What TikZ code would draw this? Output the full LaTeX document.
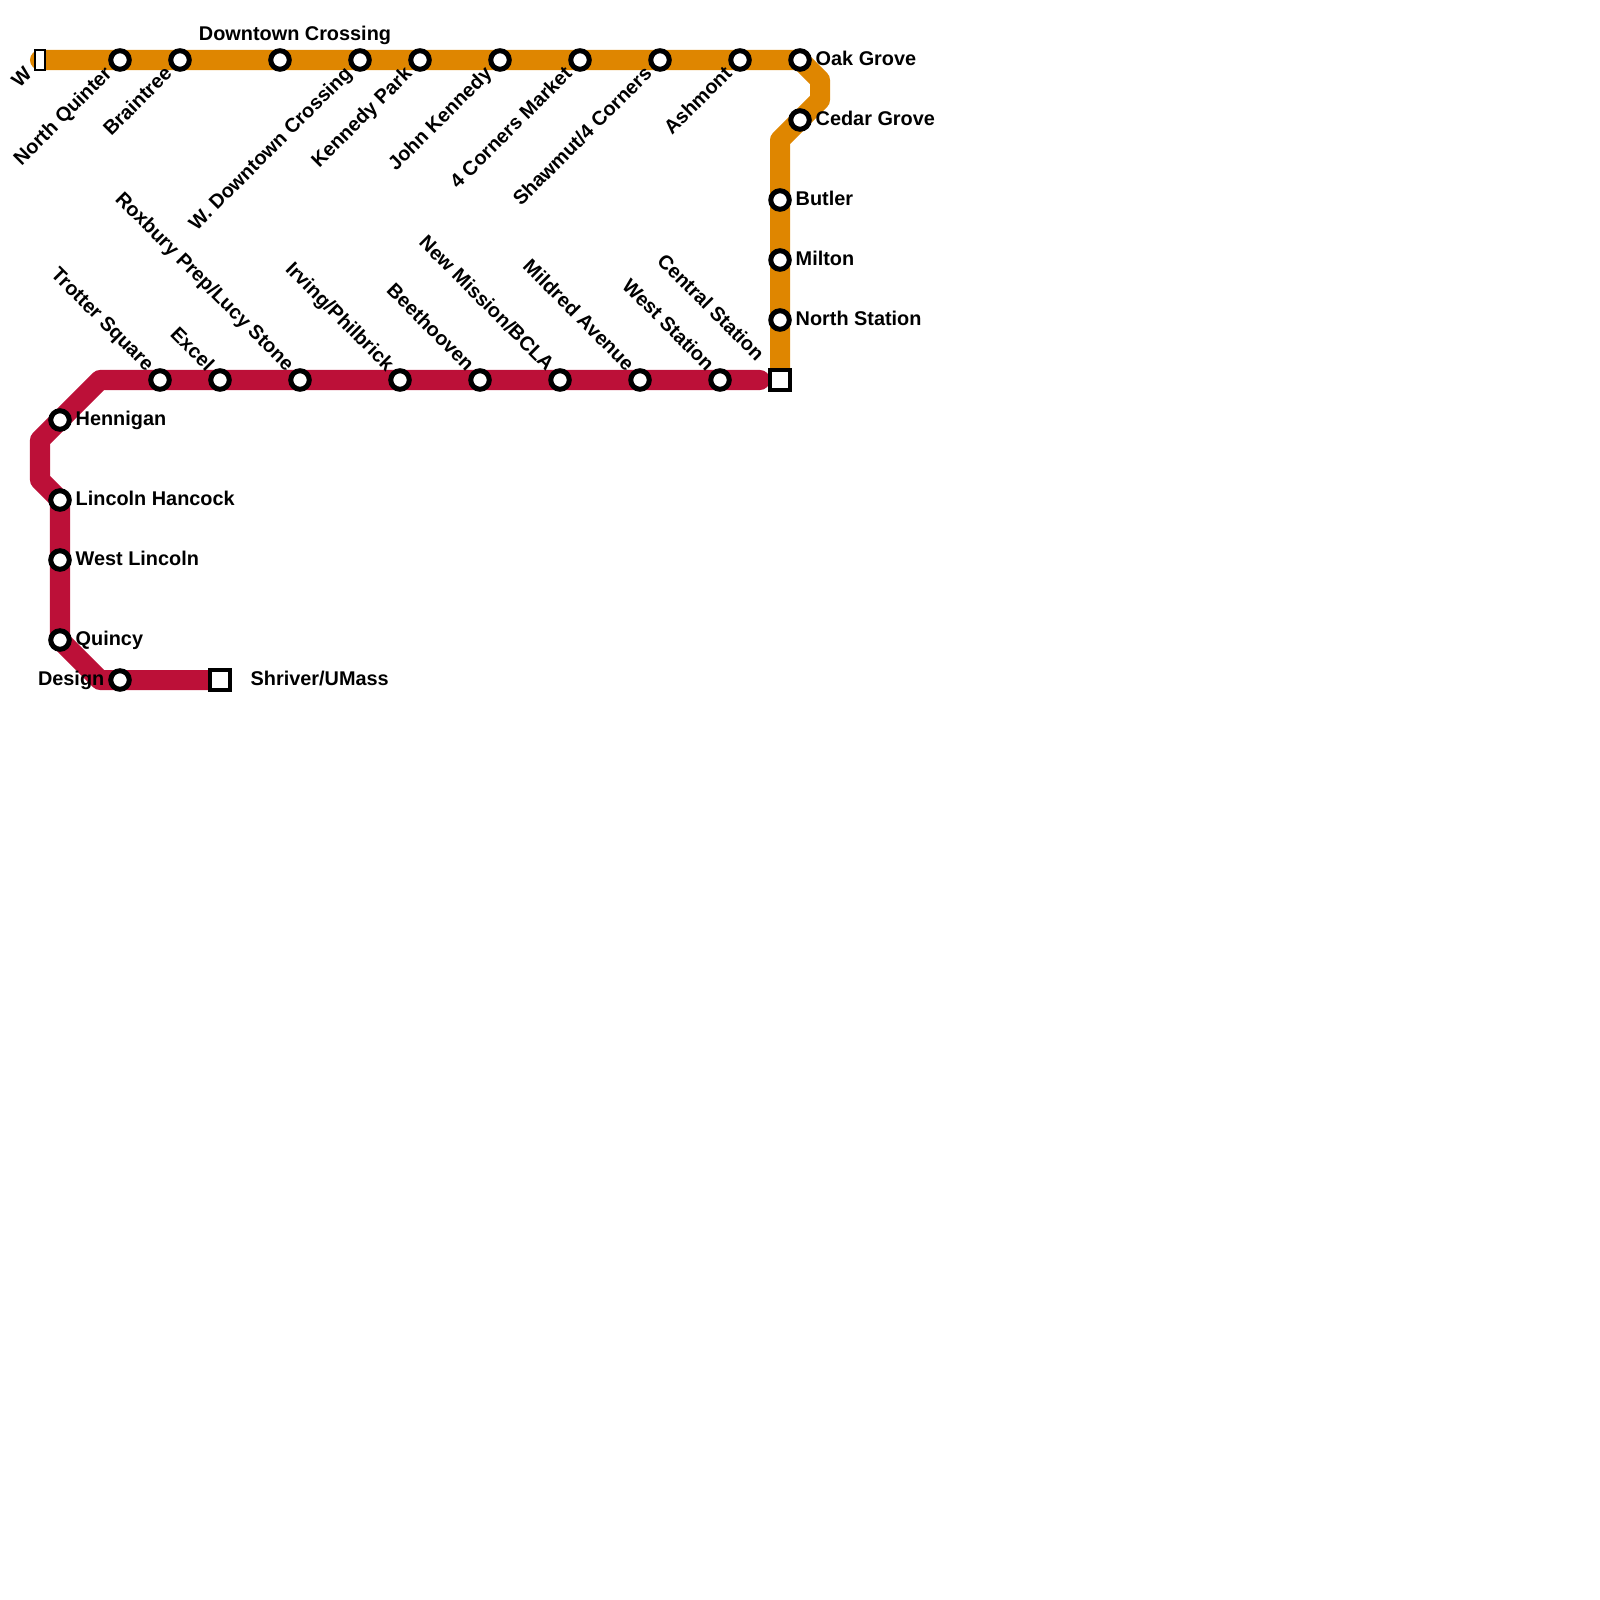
\documentclass[tikz,border=0pt]{standalone}
\usepackage{fontspec}
\setmainfont{Liberation Sans}
\usetikzlibrary{backgrounds}
\definecolor{orangeline}{HTML}{DF8600}
\definecolor{redline}{HTML}{BC1038}
\tikzset{
 stn/.style={circle,draw=black,fill=white,line width=.5mm,minimum size=1.85mm,inner sep=0pt,outer sep=0pt},
 term/.style={rectangle,draw=black,fill=white,line width=.4mm,minimum size=2mm,inner sep=0pt,outer sep=0pt},
 lbl/.style={font=\bfseries\fontsize{5.65pt}{6pt}\selectfont,inner sep=0pt,text height=.72em,text depth=.2em},
 route/.style={line width=2mm,line join=round,line cap=round}
}
\begin{document}
\begin{tikzpicture}[x=.01cm,y=-.01cm]
 \useasboundingbox (0,0) rectangle (1600,1600);
 % top row
 \node[term,minimum width=.95mm,minimum height=2mm,line width=.2mm] (wend) at (40,60) {};
 \node[lbl,rotate=45,anchor=east] (wendl) at (27,68) {W};
 \foreach \nm/\x/\txt in {nq/120/North Quinter,bt/180/Braintree,wd/360/W. Downtown Crossing,kp/420/Kennedy Park,jk/500/John Kennedy,fc/580/4 Corners Market,sc/660/{Shawmut/4 Corners},as/740/Ashmont}
   {\node[stn] (\nm) at (\x,60) {};
    \node[lbl,rotate=45,anchor=east] (\nm l) at (\x-13,68) {\txt};}
 \node[stn] (dc) at (280,60) {};
 \node[lbl] (dcl) at (295,31) {Downtown Crossing};
 % right column
 \foreach \nm/\x/\y/\txt in {og/800/60/Oak Grove,cg/800/120/Cedar Grove,bu/780/200/Butler,mi/780/260/Milton,ns/780/320/North Station}
   {\node[stn] (\nm) at (\x,\y) {};
    \node[lbl,anchor=west] (\nm l) at (\x+15,\y-4) {\txt};}
 \node[term] (ctr) at (780,380) {};
 % middle row
 \foreach \nm/\x/\txt in {ts/160/Trotter Square,ex/220/Excel,rx/300/{Roxbury Prep/Lucy Stone},ip/400/{Irving/Philbrick},be/480/Beethooven,nm/560/{New Mission/BCLA},ma/640/Mildred Avenue,wt/720/West Station}
   {\node[stn] (\nm) at (\x,380) {};
    \node[lbl,rotate=-45,anchor=east] (\nm l) at (\x-7,366) {\txt};}
 \node[lbl,rotate=-45,anchor=east] (ctrl) at (763,356) {Central Station};
 % left column
 \foreach \nm/\y/\txt in {he/420/Hennigan,lh/500/Lincoln Hancock,wl/560/West Lincoln,qu/640/Quincy}
   {\node[stn] (\nm) at (60,\y) {};
    \node[lbl,anchor=west] (\nm l) at (75,\y-4) {\txt};}
 \node[stn] (de) at (120,680) {};
 \node[lbl,anchor=east] (del) at (105,676) {Design};
 \node[term] (sh) at (220,680) {};
 \node[lbl,anchor=west] (shl) at (250,676) {Shriver/UMass};
 % bends
 \coordinate (o1) at (820,80);
 \coordinate (o2) at (820,100);
 \coordinate (o3) at (780,140);
 \coordinate (r0) at (760,380);
 \coordinate (r1) at (100,380);
 \coordinate (r2) at (40,440);
 \coordinate (r3) at (40,480);
 \coordinate (r4) at (100,680);
 \begin{scope}[on background layer]
  \draw[route,redline] (r0)--(r1)--(r2)--(r3)--(lh.center)--(qu.center)--(r4)--(sh.center);
  \draw[route,orangeline] (wend.center)--(og.center)--(o1)--(o2)--(o3)--(ctr.center);
 \end{scope}
\end{tikzpicture}
\end{document}
